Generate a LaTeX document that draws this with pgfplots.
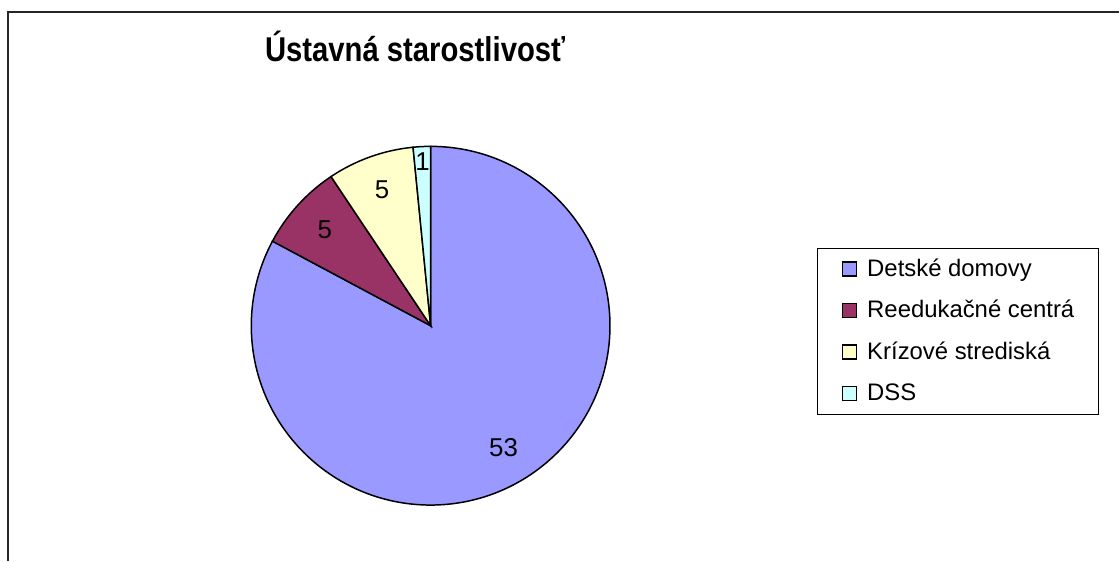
\documentclass[border=0pt]{standalone}
\usepackage{fontspec}
\setmainfont{Liberation Sans}
\usepackage{pgfplots}
\usepackage{pgfplotstable}
\pgfplotsset{compat=1.18}

\definecolor{cA}{HTML}{9999FF}
\definecolor{cB}{HTML}{993366}
\definecolor{cC}{HTML}{FFFFCC}
\definecolor{cD}{HTML}{CCFFFF}

% value = slice size, labr = distance of the data label from the centre (px)
\pgfplotstableread{
value labr
53 142
5 143
5 144
1 164
}\piedata

\pgfplotstablegetelem{0}{value}\of\piedata\edef\vA{\pgfplotsretval}
\pgfplotstablegetelem{1}{value}\of\piedata\edef\vB{\pgfplotsretval}
\pgfplotstablegetelem{2}{value}\of\piedata\edef\vC{\pgfplotsretval}
\pgfplotstablegetelem{3}{value}\of\piedata\edef\vD{\pgfplotsretval}
\pgfplotstablegetelem{0}{labr}\of\piedata\edef\lA{\pgfplotsretval}
\pgfplotstablegetelem{1}{labr}\of\piedata\edef\lB{\pgfplotsretval}
\pgfplotstablegetelem{2}{labr}\of\piedata\edef\lC{\pgfplotsretval}
\pgfplotstablegetelem{3}{labr}\of\piedata\edef\lD{\pgfplotsretval}

\pgfmathsetmacro\total{\vA+\vB+\vC+\vD}
% start at 12 o'clock, go clockwise
\pgfmathsetmacro\aA{90}
\pgfmathsetmacro\aB{\aA-360*(\vA/\total)}
\pgfmathsetmacro\aC{\aB-360*(\vB/\total)}
\pgfmathsetmacro\aD{\aC-360*(\vC/\total)}
\pgfmathsetmacro\aE{\aD-360*(\vD/\total)}
\pgfmathsetmacro\mA{(\aA+\aB)/2}
\pgfmathsetmacro\mB{(\aB+\aC)/2}
\pgfmathsetmacro\mC{(\aC+\aD)/2}
\pgfmathsetmacro\mD{(\aD+\aE)/2}
\pgfmathsetmacro\dA{\lA*0.02}
\pgfmathsetmacro\dB{\lB*0.02}
\pgfmathsetmacro\dC{\lC*0.02}
\pgfmathsetmacro\dD{\lD*0.02}

\def\R{3.59cm}
\def\labfont{\fontsize{13.6}{16}\selectfont}
\def\datfont{\fontsize{14.7}{17}\selectfont}

\begin{document}
\begin{tikzpicture}
\begin{axis}[
    scale only axis,
    width=22.4cm, height=11.22cm,
    xmin=0, xmax=1120, ymin=0, ymax=561,
    hide axis, clip=false,
    legend image code/.code={
        \draw[#1, line width=0.8pt] (0cm,-0.14cm) rectangle (0.28cm,0.14cm);},
    legend cell align=left,
    legend style={
        at={(0.7304,0.5579)}, anchor=north west,
        draw=black, line width=0.6pt, fill=white,
        font=\labfont,
        inner xsep=0.48cm, inner ysep=0pt,
        column sep=0.2cm,
        nodes={inner sep=0pt, minimum height=0.83cm},
    },
]
\path (axis cs:0,0) rectangle (axis cs:1120,561);
% chart frame
\draw[line width=1.1pt, black!85] (axis cs:8,0) -- (axis cs:8,549) -- (axis cs:1120,549);
% title (Excel renders it tall and narrow)
\node[anchor=base west, xscale=0.85, inner sep=0pt, font=\bfseries\fontsize{19.6}{22}\selectfont]
    at (axis cs:265,499.5) {Ústavná starostlivosť};

% slices
\filldraw[fill=cA, draw=black, line width=0.85pt] (axis cs:431,235) -- ++(\aA:\R)
    arc[start angle=\aA, end angle=\aB, radius=\R] -- cycle;
\filldraw[fill=cB, draw=black, line width=0.85pt] (axis cs:431,235) -- ++(\aB:\R)
    arc[start angle=\aB, end angle=\aC, radius=\R] -- cycle;
\filldraw[fill=cC, draw=black, line width=0.85pt] (axis cs:431,235) -- ++(\aC:\R)
    arc[start angle=\aC, end angle=\aD, radius=\R] -- cycle;
\filldraw[fill=cD, draw=black, line width=0.85pt] (axis cs:431,235) -- ++(\aD:\R)
    arc[start angle=\aD, end angle=\aE, radius=\R] -- cycle;

% data labels
\node[font=\datfont, shift={(\mA:\dA cm)}] at (axis cs:431,235) {\vA};
\node[font=\datfont, shift={(\mB:\dB cm)}] at (axis cs:431,235) {\vB};
\node[font=\datfont, shift={(\mC:\dC cm)}] at (axis cs:431,235) {\vC};
\node[font=\datfont, shift={(\mD:\dD cm)}] at (axis cs:431,235) {\vD};

\addlegendimage{fill=cA, draw=black}
\addlegendentry{Detské domovy}
\addlegendimage{fill=cB, draw=black}
\addlegendentry{Reedukačné centrá}
\addlegendimage{fill=cC, draw=black}
\addlegendentry{Krízové strediská}
\addlegendimage{fill=cD, draw=black}
\addlegendentry{DSS}
\end{axis}
\end{tikzpicture}
\end{document}
